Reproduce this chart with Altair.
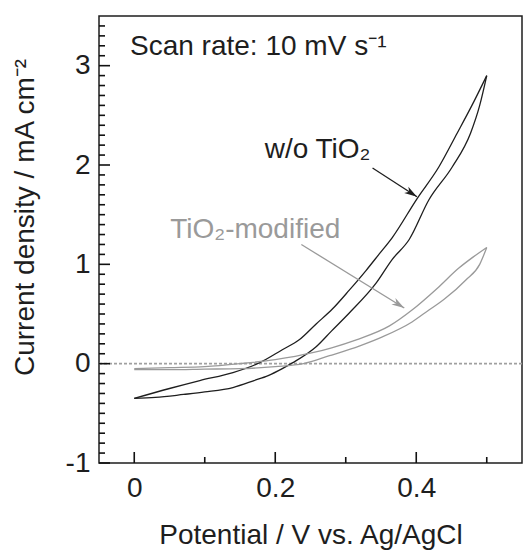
import altair as alt
import pandas as pd
import numpy as np

# ---- data ----
# w/o TiO2: forward (lower) branch and reverse (upper) branch
bare_fwd_x = [0.000, 0.030, 0.070, 0.100, 0.140, 0.170, 0.190, 0.210, 0.225, 0.258, 0.280, 0.305, 0.343, 0.366, 0.390, 0.418, 0.451, 0.477, 0.490, 0.500]
bare_fwd_y = [-0.35, -0.34, -0.31, -0.285, -0.24, -0.17, -0.12, -0.05, 0.01, 0.17, 0.33, 0.51, 0.81, 1.05, 1.25, 1.65, 1.98, 2.32, 2.60, 2.90]
bare_rev_x = [0.500, 0.479, 0.458, 0.432, 0.401, 0.366, 0.347, 0.329, 0.305, 0.281, 0.258, 0.234, 0.210, 0.178, 0.140, 0.093, 0.050, 0.000]
bare_rev_y = [2.90, 2.60, 2.32, 1.98, 1.66, 1.27, 1.10, 0.94, 0.74, 0.55, 0.40, 0.24, 0.14, 0.01, -0.09, -0.17, -0.25, -0.35]

# TiO2-modified
mod_fwd_x = [0.000, 0.050, 0.100, 0.150, 0.200, 0.240, 0.277, 0.320, 0.352, 0.394, 0.418, 0.440, 0.470, 0.490, 0.500]
mod_fwd_y = [-0.06, -0.06, -0.055, -0.05, -0.03, 0.00, 0.08, 0.18, 0.27, 0.42, 0.54, 0.65, 0.84, 1.00, 1.17]
mod_rev_x = [0.500, 0.480, 0.460, 0.430, 0.394, 0.362, 0.315, 0.280, 0.253, 0.200, 0.150, 0.100, 0.050, 0.000]
mod_rev_y = [1.17, 1.07, 0.96, 0.76, 0.54, 0.38, 0.24, 0.16, 0.11, 0.04, 0.00, -0.03, -0.04, -0.05]

series_names = ["w/o TiO2", "TiO2-modified"]
series_colors = ["#1e1e1e", "#9a9a9a"]

x_major = [0, 0.2, 0.4]
x_minor = [0.1, 0.3, 0.5]
y_major = [-1, 0, 1, 2, 3]
y_minor = [round(v, 1) for v in np.arange(-1.0, 3.45, 0.1) if abs(v - round(v)) > 1e-6]

# annotations (data coordinates)
ann_text = ["Scan rate: 10 mV s\u207b\u00b9", "w/o TiO\u2082", "TiO\u2082-modified"]
ann_x = [-0.006, 0.185, 0.051]
ann_y = [3.105, 2.07, 1.27]
ann_color = ["#1e1e1e", "#1e1e1e", "#9a9a9a"]

arrow_x0 = [0.338, 0.237]
arrow_y0 = [1.97, 1.20]
arrow_x1 = [0.401, 0.383]
arrow_y1 = [1.68, 0.56]
arrow_color = ["#1e1e1e", "#9a9a9a"]

W, H = 423, 447
XD = [-0.05, 0.55]
YD = [-1, 3.5]
px_per_x = W / (XD[1] - XD[0])
px_per_y = H / (YD[1] - YD[0])

# ---- build tables ----
rows = []
for name, fx, fy, rx, ry in [
    (series_names[0], bare_fwd_x, bare_fwd_y, bare_rev_x, bare_rev_y),
    (series_names[1], mod_fwd_x, mod_fwd_y, mod_rev_x, mod_rev_y),
]:
    for branch, bx, by in [("fwd", fx, fy), ("rev", rx, ry)]:
        for xv, yv in zip(bx, by):
            rows.append({"x": xv, "y": yv, "series": name, "branch": name + branch})
curves = pd.DataFrame(rows)

# inward axis ticks as short segments starting exactly at the frame
MAJ, MIN = 11, 6
tk = []
for v in x_major:
    tk.append({"x0": v, "x1": v, "y0": YD[0], "y1": YD[0] + MAJ / px_per_y})
for v in x_minor:
    tk.append({"x0": v, "x1": v, "y0": YD[0], "y1": YD[0] + MIN / px_per_y})
for v in y_major:
    tk.append({"x0": XD[0], "x1": XD[0] + MAJ / px_per_x, "y0": v, "y1": v})
for v in y_minor:
    tk.append({"x0": XD[0], "x1": XD[0] + MIN / px_per_x, "y0": v, "y1": v})
ticks_df = pd.DataFrame(tk)

xs = alt.Scale(domain=XD, nice=False, zero=False)
ys = alt.Scale(domain=YD, nice=False, zero=False)
color = alt.Scale(domain=series_names, range=series_colors)

base_x_axis = alt.Axis(values=x_major, labelExpr="datum.value + ''", tickSize=0, domain=False, grid=False,
                       labelPadding=11, title="Potential / V vs. Ag/AgCl", titlePadding=19)
base_y_axis = alt.Axis(values=y_major, labelExpr="datum.value + ''", tickSize=0, domain=False, grid=False,
                       labelPadding=9, title="Current density / mA cm\u207b\u00b2",
                       titleX=-74, titleY=201, titleAngle=270, titleAlign="center", titleBaseline="middle")

zero = alt.Chart(pd.DataFrame({"y": [0]})).mark_rule(
    color="#a0a0a0", strokeWidth=1.6, strokeDash=[3, 2]
).encode(y=alt.Y("y:Q", scale=ys))

lines = alt.Chart(curves).mark_line(strokeWidth=1.3, interpolate="monotone").encode(
    x=alt.X("x:Q", scale=xs, axis=base_x_axis),
    y=alt.Y("y:Q", scale=ys, axis=base_y_axis),
    color=alt.Color("series:N", scale=color, legend=None),
    detail="branch:N",
    order="x:Q",
)

ticks = alt.Chart(ticks_df).mark_rule(color="#111111", strokeWidth=1.6, opacity=1).encode(
    x=alt.X("x0:Q", scale=xs), y=alt.Y("y0:Q", scale=ys),
    x2="x1:Q", y2="y1:Q",
)

arr = pd.DataFrame({"x0": arrow_x0, "y0": arrow_y0, "x1": arrow_x1, "y1": arrow_y1, "c": arrow_color})
dxp = (arr["x1"] - arr["x0"]) * px_per_x
dyp = -(arr["y1"] - arr["y0"]) * px_per_y
arr["ang"] = (np.degrees(np.arctan2(dxp, -dyp)) + 360) % 360

shafts = alt.Chart(arr).mark_rule(strokeWidth=1.3).encode(
    x=alt.X("x0:Q", scale=xs), y=alt.Y("y0:Q", scale=ys),
    x2="x1:Q", y2="y1:Q", color=alt.Color("c:N", scale=None),
)
heads = alt.Chart(arr).mark_point(
    shape="M0,0 L0.3,1 L0,0.72 L-0.3,1 Z", filled=True, size=650, opacity=1
).encode(
    x=alt.X("x1:Q", scale=xs), y=alt.Y("y1:Q", scale=ys),
    angle=alt.Angle("ang:Q", scale=None),
    color=alt.Color("c:N", scale=None),
)

ann = pd.DataFrame({"t": ann_text, "x": ann_x, "y": ann_y, "c": ann_color})
texts = alt.Chart(ann).mark_text(
    align="left", baseline="alphabetic", font="Liberation Sans", fontSize=28
).encode(
    x=alt.X("x:Q", scale=xs), y=alt.Y("y:Q", scale=ys),
    text="t:N", color=alt.Color("c:N", scale=None),
)

chart = alt.layer(zero, lines, ticks, shafts, heads, texts).properties(
    width=W, height=H,
    autosize=alt.AutoSizeParams(type="none"),
    padding={"left": 99, "top": 16, "right": 2, "bottom": 88},
    background="white",
).configure_view(
    stroke="#1e1e1e", strokeWidth=1.5
).configure_axis(
    labelFont="Liberation Sans", titleFont="Liberation Sans",
    labelFontSize=28, titleFontSize=28, titleFontWeight="normal",
    labelColor="#1e1e1e", titleColor="#1e1e1e",
)

chart.save("out.html", embed_options={"renderer": "svg", "actions": False})
